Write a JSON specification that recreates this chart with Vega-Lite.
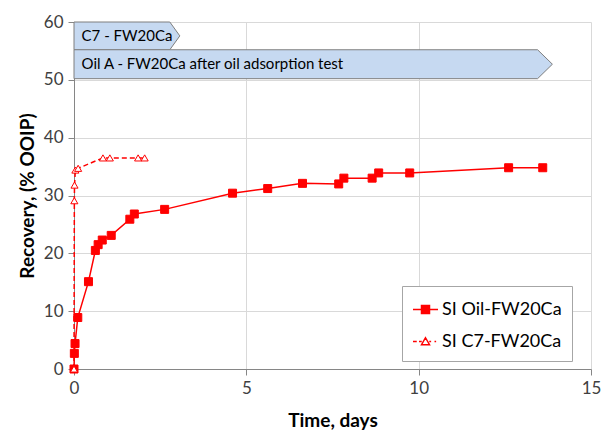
{
  "$schema": "https://vega.github.io/schema/vega-lite/v6.json",
  "width": 517,
  "height": 347,
  "autosize": {"type": "none"},
  "padding": {"left": 74, "top": 22, "right": 11, "bottom": 64},
  "background": "white",
  "config": {
    "font": "Lato",
    "view": {"stroke": null},
    "axis": {
      "gridColor": "#d9d9d9",
      "domainColor": "#868686",
      "tickColor": "#868686",
      "tickSize": 6,
      "labelFontSize": 17,
      "labelColor": "#404040",
      "labelFont": "Lato",
      "labelFlush": false,
      "titleFont": "Lato",
      "titleFontSize": 19,
      "titleFontWeight": "bold",
      "titleColor": "#000000"
    },
    "legend": {
      "padding": 10,
      "rowPadding": 9,
      "strokeColor": "#a6a6a6",
      "fillColor": "#ffffff",
      "labelFontSize": 18,
      "labelFont": "Lato",
      "labelColor": "#000000",
      "labelOffset": 3,
      "symbolSize": 625,
      "symbolStrokeWidth": 1.5,
      "symbolOpacity": 1
    }
  },
  "datasets": {
    "series": [
      {"series": "SI Oil-FW20Ca", "t": 0.0, "r": 0.0},
      {"series": "SI Oil-FW20Ca", "t": 0.01, "r": 2.7},
      {"series": "SI Oil-FW20Ca", "t": 0.03, "r": 4.4},
      {"series": "SI Oil-FW20Ca", "t": 0.11, "r": 8.9},
      {"series": "SI Oil-FW20Ca", "t": 0.42, "r": 15.1},
      {"series": "SI Oil-FW20Ca", "t": 0.62, "r": 20.5},
      {"series": "SI Oil-FW20Ca", "t": 0.70, "r": 21.5},
      {"series": "SI Oil-FW20Ca", "t": 0.82, "r": 22.3},
      {"series": "SI Oil-FW20Ca", "t": 1.08, "r": 23.1},
      {"series": "SI Oil-FW20Ca", "t": 1.62, "r": 25.9},
      {"series": "SI Oil-FW20Ca", "t": 1.75, "r": 26.8},
      {"series": "SI Oil-FW20Ca", "t": 2.63, "r": 27.6},
      {"series": "SI Oil-FW20Ca", "t": 4.60, "r": 30.4},
      {"series": "SI Oil-FW20Ca", "t": 5.62, "r": 31.2},
      {"series": "SI Oil-FW20Ca", "t": 6.63, "r": 32.1},
      {"series": "SI Oil-FW20Ca", "t": 7.68, "r": 32.0},
      {"series": "SI Oil-FW20Ca", "t": 7.83, "r": 33.0},
      {"series": "SI Oil-FW20Ca", "t": 8.65, "r": 33.0},
      {"series": "SI Oil-FW20Ca", "t": 8.84, "r": 33.9},
      {"series": "SI Oil-FW20Ca", "t": 9.74, "r": 33.9},
      {"series": "SI Oil-FW20Ca", "t": 12.61, "r": 34.8},
      {"series": "SI Oil-FW20Ca", "t": 13.60, "r": 34.8},
      {"series": "SI C7-FW20Ca", "t": 0.0, "r": 0.0},
      {"series": "SI C7-FW20Ca", "t": 0.01, "r": 29.1},
      {"series": "SI C7-FW20Ca", "t": 0.015, "r": 31.8},
      {"series": "SI C7-FW20Ca", "t": 0.04, "r": 34.4},
      {"series": "SI C7-FW20Ca", "t": 0.12, "r": 34.7},
      {"series": "SI C7-FW20Ca", "t": 0.84, "r": 36.5},
      {"series": "SI C7-FW20Ca", "t": 1.04, "r": 36.5},
      {"series": "SI C7-FW20Ca", "t": 1.86, "r": 36.5},
      {"series": "SI C7-FW20Ca", "t": 2.05, "r": 36.5}
    ],
    "arrows": [
      {"arrow": "C7", "t": 0, "lo": 55.2, "hi": 60},
      {"arrow": "C7", "t": 2.78, "lo": 55.2, "hi": 60},
      {"arrow": "C7", "t": 3.07, "lo": 57.6, "hi": 57.6},
      {"arrow": "Oil", "t": 0, "lo": 50.2, "hi": 55.2},
      {"arrow": "Oil", "t": 13.45, "lo": 50.2, "hi": 55.2},
      {"arrow": "Oil", "t": 13.88, "lo": 52.7, "hi": 52.7}
    ],
    "labels": [
      {"text": "C7 - FW20Ca", "t": 0.22, "r": 57.6},
      {"text": "Oil A - FW20Ca after oil adsorption test", "t": 0.22, "r": 52.7}
    ]
  },
  "layer": [
    {
      "data": {"name": "arrows"},
      "mark": {"type": "area", "fill": "#c6d9f1", "stroke": "#7f7f7f", "strokeWidth": 1, "opacity": 1},
      "encoding": {
        "x": {"field": "t", "type": "quantitative", "scale": {"domain": [0, 15], "nice": false, "padding": 0},
              "axis": {"values": [0, 5, 10, 15], "title": "Time, days", "labelPadding": 5, "titlePadding": 15}},
        "y": {"field": "lo", "type": "quantitative", "scale": {"domain": [0, 60], "nice": false, "padding": 0},
              "axis": {"values": [0, 10, 20, 30, 40, 50, 60], "title": "Recovery, (% OOIP)", "labelPadding": 5, "titlePadding": 6}},
        "y2": {"field": "hi"},
        "detail": {"field": "arrow"}
      }
    },
    {
      "data": {"name": "labels"},
      "mark": {"type": "text", "align": "left", "baseline": "middle", "fontSize": 15, "font": "Lato", "color": "#000000"},
      "encoding": {
        "x": {"field": "t", "type": "quantitative"},
        "y": {"field": "r", "type": "quantitative"},
        "text": {"field": "text"}
      }
    },
    {
      "data": {"name": "series"},
      "transform": [{"filter": "datum.series === 'SI Oil-FW20Ca'"}],
      "mark": {"type": "line", "color": "#ff0000", "strokeWidth": 1.5},
      "encoding": {
        "x": {"field": "t", "type": "quantitative"},
        "y": {"field": "r", "type": "quantitative"}
      }
    },
    {
      "data": {"name": "series"},
      "transform": [{"filter": "datum.series === 'SI C7-FW20Ca'"}],
      "mark": {"type": "line", "color": "#ff0000", "strokeWidth": 1.5, "strokeDash": [5, 3]},
      "encoding": {
        "x": {"field": "t", "type": "quantitative"},
        "y": {"field": "r", "type": "quantitative"}
      }
    },
    {
      "data": {"name": "series"},
      "transform": [{"filter": "datum.series === 'SI Oil-FW20Ca'"}],
      "mark": {"type": "point", "shape": "square", "filled": true, "fill": "#ff0000", "stroke": "#ff0000", "strokeWidth": 1, "size": 64, "opacity": 1},
      "encoding": {
        "x": {"field": "t", "type": "quantitative"},
        "y": {"field": "r", "type": "quantitative"}
      }
    },
    {
      "data": {"name": "series"},
      "transform": [{"filter": "datum.series === 'SI C7-FW20Ca'"}],
      "mark": {"type": "point", "shape": "triangle-up", "filled": true, "fill": "#ffffff", "stroke": "#ff0000", "strokeWidth": 1, "size": 50, "opacity": 1},
      "encoding": {
        "x": {"field": "t", "type": "quantitative"},
        "y": {"field": "r", "type": "quantitative"}
      }
    },
    {
      "data": {"name": "series"},
      "mark": {"type": "point", "filled": true, "strokeWidth": 1.5, "size": 625, "opacity": 0},
      "encoding": {
        "x": {"field": "t", "type": "quantitative"},
        "y": {"field": "r", "type": "quantitative"},
        "shape": {"field": "series", "type": "nominal",
                  "scale": {"domain": ["SI Oil-FW20Ca", "SI C7-FW20Ca"],
                            "range": ["M-1,0H1M-0.32,-0.32H0.32V0.32H-0.32Z",
                                      "M-1,0H-0.7M-0.52,0H-0.3M0.3,0H0.45M0.72,0H0.85M0,-0.3L0.32,0.26H-0.32Z"]},
                  "legend": {"title": null, "orient": "none", "legendX": 328, "legendY": 264}},
        "fill": {"field": "series", "type": "nominal",
                 "scale": {"domain": ["SI Oil-FW20Ca", "SI C7-FW20Ca"], "range": ["#ff0000", "#ffffff"]},
                 "legend": {"title": null, "orient": "none", "legendX": 328, "legendY": 264}},
        "stroke": {"field": "series", "type": "nominal",
                   "scale": {"domain": ["SI Oil-FW20Ca", "SI C7-FW20Ca"], "range": ["#ff0000", "#ff0000"]},
                   "legend": {"title": null, "orient": "none", "legendX": 328, "legendY": 264}}
      }
    }
  ]
}
